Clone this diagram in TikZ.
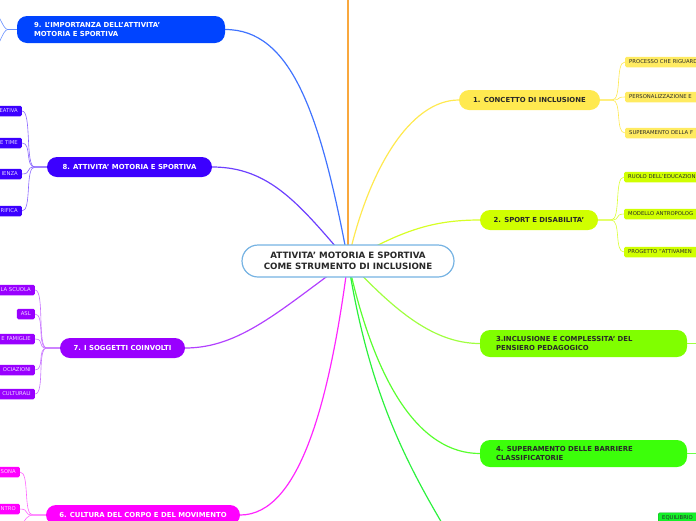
\documentclass[tikz,border=0pt]{standalone}
\usepackage{fontspec}
\setmainfont{DejaVu Sans}
\usetikzlibrary{positioning, backgrounds}
\definecolor{centreblue}{RGB}{118, 179, 227}
\definecolor{orangeline}{RGB}{249, 168, 62}
\definecolor{conceptyellow}{RGB}{255, 233, 80}
\definecolor{sportlime}{RGB}{208, 255, 0}
\definecolor{complgreen}{RGB}{128, 255, 0}
\definecolor{barriergreen}{RGB}{60, 255, 10}
\definecolor{equilgreen}{RGB}{20, 240, 40}
\definecolor{culturemagenta}{RGB}{255, 0, 255}
\definecolor{subjpurple}{RGB}{153, 0, 255}
\definecolor{activblue}{RGB}{60, 0, 255}
\definecolor{importblue}{RGB}{0, 68, 255}
\definecolor{darktext}{RGB}{40, 40, 40}

\begin{document}
\begin{tikzpicture}[x=1pt, y=-1pt,
  centre/.style={draw=centreblue, line width=1.2pt, fill=white, rounded corners=16pt,
    minimum width=212pt, minimum height=32pt, align=center, text=darktext,
    font=\fontsize{8.7}{10.5}\selectfont\bfseries},
  topic/.style={rounded corners=10pt, minimum height=20pt, inner sep=0pt,
    font=\fontsize{6.9}{9}\selectfont\bfseries},
  widetopic/.style={topic, minimum height=27pt, inner xsep=16pt, align=left},
  leafr/.style={anchor=west, rounded corners=1.5pt, minimum height=10.5pt, inner xsep=4pt,
    inner ysep=0pt, text width=95pt, align=left, font=\fontsize{5.3}{6}\selectfont},
  leafl/.style={anchor=east, rounded corners=1.5pt, minimum height=10.5pt, inner xsep=4pt,
    inner ysep=0pt, align=right, font=\fontsize{5.3}{6}\selectfont},
  branch/.style={line width=1.2pt},
  twig/.style={line width=0.6pt}]

  \useasboundingbox (0,0) rectangle (696,520);
  \clip (0,0) rectangle (696,520);

  \node[centre] (ctr) at (348,261) {ATTIVITA' MOTORIA E SPORTIVA\\COME STRUMENTO DI INCLUSIONE};

  \node[topic, fill=conceptyellow, text=darktext, minimum width=141pt] (t1) at (529.5,100) {1. CONCETTO DI INCLUSIONE};
  \node[topic, fill=sportlime, text=darktext, minimum width=118pt] (t2) at (539,220) {2. SPORT E DISABILITA'};
  \node[widetopic, fill=complgreen, text=darktext, text width=175pt] (t3) at (583.5,343.5) {3.INCLUSIONE E COMPLESSITA' DEL\\PENSIERO PEDAGOGICO};
  \node[widetopic, fill=barriergreen, text=darktext, text width=175pt] (t4) at (583.5,453.5) {4. SUPERAMENTO DELLE BARRIERE\\CLASSIFICATORIE};
  \node[topic, fill=culturemagenta, text=white, minimum width=194pt] (t6) at (143,515) {6. CULTURA DEL CORPO E DEL MOVIMENTO};
  \node[topic, fill=subjpurple, text=white, minimum width=125pt] (t7) at (122.5,348) {7. I SOGGETTI COINVOLTI};
  \node[topic, fill=activblue, text=white, minimum width=165pt] (t8) at (129.5,167) {8. ATTIVITA' MOTORIA E SPORTIVA};
  \node[widetopic, fill=importblue, text=white, text width=174pt, inner xsep=17pt] (t9) at (121,29.5) {9. L'IMPORTANZA DELL'ATTIVITA'\\MOTORIA E SPORTIVA};

  \coordinate (t0) at (348,-10);
  \coordinate (t5) at (455,545);
  \coordinate (t3out) at (700,343.5);
  \coordinate (t4out) at (700,453.5);
  \coordinate (t6out) at (18,545);
  \coordinate (t9up) at (-6,12);
  \coordinate (t9down) at (-6,48);

  \node[leafr, fill=equilgreen, draw=equilgreen!70!black, line width=0.3pt, text=darktext] (eq) at (658,518) {EQUILIBRIO};

  \foreach \y/\name/\txt in {62/a1/PROCESSO CHE RIGUARD, 97/a2/PERSONALIZZAZIONE E, 133/a3/SUPERAMENTO DELLA F} {
    \node[leafr, fill=conceptyellow!90, text=darktext] (\name) at (625,\y) {\txt};
    \begin{scope}[on background layer]
      \draw[twig, conceptyellow] (t1.east) -- ++(12,0) .. controls +(10,0) and +(-10,0) .. (\name.west);
    \end{scope}
  }
  \foreach \y/\name/\txt in {177/b1/RUOLO DELL'EDUCAZION, 214/b2/MODELLO ANTROPOLOG, 252/b3/PROGETTO "ATTIVAMEN} {
    \node[leafr, fill=sportlime, text=darktext] (\name) at (624,\y) {\txt};
    \begin{scope}[on background layer]
      \draw[twig, sportlime!80!white] (t2.east) -- ++(13,0) .. controls +(10,0) and +(-10,0) .. (\name.west);
    \end{scope}
  }
  \foreach \y/\name/\txt in {111/h1/EATIVA, 143/h2/E TIME, 174/h3/IENZA, 211/h4/RIFICA} {
    \node[leafl, fill=activblue, text=white!85!activblue] (\name) at (22,\y) {\txt};
    \begin{scope}[on background layer]
      \draw[twig, activblue!60!white] (t8.west) -- ++(-12,0) .. controls +(-10,0) and +(10,0) .. (\name.east);
    \end{scope}
  }
  \foreach \y/\name/\txt in {290/s1/LA SCUOLA, 314/s2/ASL, 339/s3/E FAMIGLIE, 370/s4/OCIAZIONI, 394/s5/CULTURALI} {
    \node[leafl, fill=subjpurple, text=white!85!subjpurple] (\name) at (35,\y) {\txt};
    \begin{scope}[on background layer]
      \draw[twig, subjpurple!55!white] (t7.west) -- ++(-13,0) .. controls +(-10,0) and +(10,0) .. (\name.east);
    \end{scope}
  }
  \foreach \y/\name/\txt in {472/m1/SONA, 509/m2/NTRO} {
    \node[leafl, fill=culturemagenta, text=white!85!culturemagenta] (\name) at (20,\y) {\txt};
    \begin{scope}[on background layer]
      \draw[twig, culturemagenta!60!white] (t6.west) -- ++(-13,0) .. controls +(-10,0) and +(10,0) .. (\name.east);
    \end{scope}
  }

  \begin{scope}[on background layer]
    \draw[branch, orangeline] (ctr.center) -- (t0);
    \draw[branch, conceptyellow] (ctr.center) .. controls (368,170) and (410,100) .. (t1.west);
    \draw[branch, sportlime!85!white] (ctr.center) .. controls (400,232) and (430,220) .. (t2.west);
    \draw[branch, complgreen!75!white] (ctr.center) .. controls (390,305) and (430,343.5) .. (t3.west);
    \draw[branch, barriergreen!85!white] (ctr.center) .. controls (375,385) and (420,453.5) .. (t4.west);
    \draw[branch, equilgreen!90!white] (ctr.center) .. controls (370,400) and (410,470) .. (t5);
    \draw[branch, culturemagenta!85!white] (ctr.center) .. controls (330,400) and (300,515) .. (t6.east);
    \draw[branch, subjpurple!75!white] (ctr.center) .. controls (280,310) and (240,348) .. (t7.east);
    \draw[branch, activblue!75!white] (ctr.center) .. controls (300,205) and (270,167) .. (t8.east);
    \draw[branch, importblue!75!white] (ctr.center) .. controls (320,110) and (290,29.5) .. (t9.east);
    \draw[twig, complgreen!75!white] (t3.east) -- (t3out);
    \draw[twig, barriergreen!75!white] (t4.east) -- (t4out);
    \draw[twig, culturemagenta!60!white] (t6.west) -- ++(-13,0) .. controls +(-10,0) and +(0,-10) .. (t6out);
    \draw[twig, importblue!60!white] (t9.west) -- ++(-9,0) .. controls +(-5,0) and +(5,0) .. (t9up);
    \draw[twig, importblue!60!white] (t9.west) -- ++(-9,0) .. controls +(-5,0) and +(5,0) .. (t9down);
  \end{scope}
\end{tikzpicture}
\end{document}
